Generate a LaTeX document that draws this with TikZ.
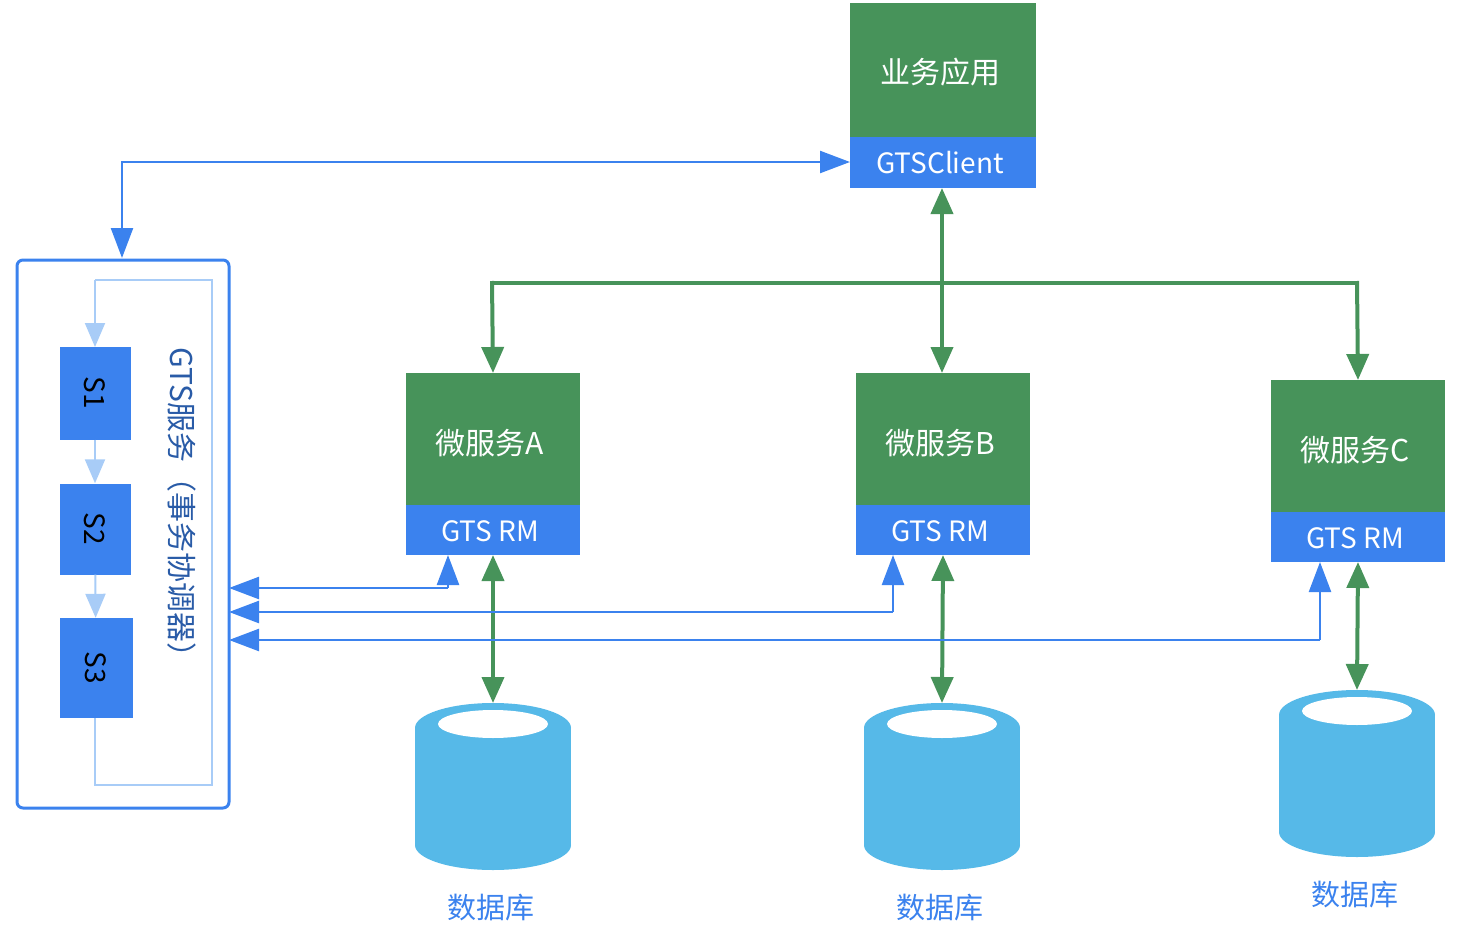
\documentclass[tikz,border=0pt]{standalone}
\usepackage{fontspec}
\setmainfont{Noto Sans CJK SC}
\usetikzlibrary{arrows.meta}
\definecolor{gr}{HTML}{47935A}
\definecolor{bl}{HTML}{3B82EE}
\definecolor{lb}{HTML}{A8CCF7}
\definecolor{db}{HTML}{56B9E8}
\begin{document}
\begin{tikzpicture}[x=1pt,y=-1pt,
  gfont/.style={text=white,font=\fontsize{30}{32}\selectfont},
  bfont/.style={text=white,font=\fontsize{28}{30}\selectfont},
  sbox/.style={fill=bl,text=black,font=\fontsize{28}{30}\selectfont,inner sep=0pt},
  gtip/.tip={Triangle[width=22pt,length=26pt]},
  btip/.tip={Triangle[width=22pt,length=30pt]},
  ltip/.tip={Triangle[width=20pt,length=24pt]},
  garr/.style={draw=gr,line width=4pt,gtip-gtip},
  barr/.style={draw=bl,line width=2.4pt,-btip},
  larr/.style={draw=lb,line width=2pt,-ltip}]
\useasboundingbox (0,0) rectangle (1470,934);
% app
\fill[gr] (850,3) rectangle (1036,137);
\node[gfont] (app) at (940,72) {业务应用};
\fill[bl] (850,137) rectangle (1036,188);
\node[bfont] (cli) at (940,163) {GTSClient};
\coordinate (cliL) at (850,162);
\coordinate (cliB) at (942,188);
% services
\foreach \n/\x/\y/\t in {A/406/373/A,B/856/373/B,C/1271/380/C}{
  \fill[gr] (\x,\y) rectangle ++(174,132);
  \fill[bl] (\x,\y+132) rectangle ++(174,50);
  \node[gfont] (m\n) at (\x+84,\y+70) {微服务\t};
  \node[bfont] (r\n) at (\x+84,\y+158) {GTS RM};
  \coordinate (t\n) at (\x+87,\y);
  \coordinate (b\n) at (\x+87,\y+182);
}
% databases
\foreach \n/\x/\y/\ly in {A/493/728/908,B/942/728/908,C/1357/715/895}{
  \fill[db] (\x-78,\y) rectangle (\x+78,\y+117);
  \fill[db] (\x,\y+117) ellipse [x radius=78,y radius=25];
  \fill[db] (\x,\y) ellipse [x radius=78,y radius=25];
  \fill[white] (\x,\y-4) ellipse [x radius=55,y radius=14];
  \coordinate (d\n) at (\x,\y-25);
  \node[text=bl,font=\fontsize{29}{30}\selectfont] (l\n) at (\x-2,\ly) {数据库};
}
% green links
\draw[garr] (cliB) -- (942,373);
\draw[gr,line width=4pt] (492,283) -- (1357,283);
\draw[gr,line width=4pt,-gtip] (492,281) -- (tA);
\draw[gr,line width=4pt,-gtip] (1357,281) -- (tC);
\draw[garr] (bA) -- (dA);
\draw[garr] (bB) -- (dB);
\draw[garr] (bC) -- (dC);
% GTS service
\draw[bl,line width=3pt,rounded corners=6pt] (17,260) rectangle (229,808);
\node[sbox,minimum width=93pt,minimum height=71pt,rotate=-90] (s1) at (95,393) {S1};
\node[sbox,minimum width=91pt,minimum height=71pt,rotate=-90] (s2) at (95,529) {S2};
\node[sbox,minimum width=100pt,minimum height=73pt,rotate=-90] (s3) at (96,668) {S3};
\node[text=bl!70!black,font=\fontsize{30}{32}\selectfont,rotate=-90] (gts) at (182,510) {GTS服务（事务协调器）};
\draw[larr] (s1) -- (s2);
\draw[larr] (s2) -- (s3);
\draw[lb,line width=2pt] (95,718) |- (212,785) |- (95,280);
\draw[larr] (95,280) -- (95,347);
\draw[bl,line width=2.4pt,btip-btip] (122,258) |- (cliL);
% RM to coordinator
\draw[barr] (448,588) -- (448,555);
\draw[barr] (448,588) -- (229,588);
\draw[barr] (893,612) -- (893,555);
\draw[barr] (893,612) -- (229,612);
\draw[barr] (1320,640) -- (1320,562);
\draw[barr] (1320,640) -- (229,640);
\end{tikzpicture}
\end{document}
